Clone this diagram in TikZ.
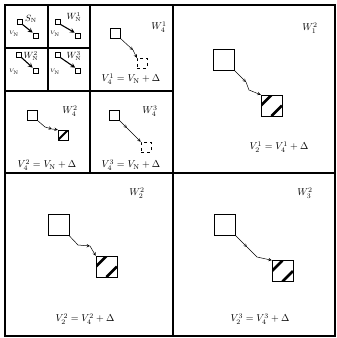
\documentclass[tikz,border=0pt]{standalone}
\usepackage{amsmath}
\usetikzlibrary{arrows}
\tikzstyle{grid} = [line width=1.6pt]
\tikzstyle{smallbox} = [rectangle, draw=black, minimum size=5pt, inner sep=0pt, line width=0.6pt]
\tikzstyle{midbox} = [rectangle, draw=black, minimum size=10pt, inner sep=0pt, line width=0.5pt]
\tikzstyle{bigbox} = [rectangle, draw=black, minimum size=21pt, inner sep=0pt, line width=0.5pt]
\tikzstyle{hatched} = [path picture={\draw[line width=2.6pt] (path picture bounding box.west) -- (path picture bounding box.north); \draw[line width=2.6pt] (path picture bounding box.south) -- (path picture bounding box.east);}]
\tikzstyle{onestripe} = [path picture={\draw[line width=2pt] (path picture bounding box.south west) -- (path picture bounding box.north east);}]
\tikzstyle{flow} = [line width=0.5pt,->,>=stealth]
\tikzstyle{thickflow} = [line width=1.1pt,->,>=stealth]
\tikzstyle{lbl} = [inner sep=0pt]

\begin{document}
\begin{tikzpicture}[x=1pt, y=-1pt]
\useasboundingbox (0,0) rectangle (337,338);

% Grid
\draw [grid] (5,5) rectangle (335,336);
\draw [grid] (173,5) -- (173,336);
\draw [grid] (5,173) -- (335,173);
\draw [grid] (90,5) -- (90,173);
\draw [grid] (5,91) -- (173,91);
\draw [grid] (48,5) -- (48,91);
\draw [grid] (5,48) -- (90,48);

% Small cells
\node (sn_a) [smallbox] at (19.5,21.5) {};
\node (sn_b) [smallbox] at (35.5,35.5) {};
\node (sn_l) [lbl] at (31,19) {\small $S_{\rm N}$};
\node (sn_v) [lbl] at (14,34) {\tiny $V_{\rm N}$};
\draw [thickflow] (sn_a.south east) -- (sn_b.north west);

\node (wn1_a) [smallbox] at (57.5,21.5) {};
\node (wn1_b) [smallbox] at (77.5,35.5) {};
\node (wn1_l) [lbl] at (74,17) {\small $W_{\rm N}^1$};
\node (wn1_v) [lbl] at (55,34) {\tiny $V_{\rm N}$};
\draw [thickflow] (wn1_a.south east) -- (wn1_b.north west);

\node (wn2_a) [smallbox] at (19,55) {};
\node (wn2_b) [smallbox] at (35.5,70.5) {};
\node (wn2_l) [lbl] at (31,56) {\small $W_{\rm N}^2$};
\node (wn2_v) [lbl] at (14,72) {\tiny $V_{\rm N}$};
\draw [thickflow] (wn2_a.south east) -- (wn2_b.north west);

\node (wn3_a) [smallbox] at (58,55) {};
\node (wn3_b) [smallbox] at (78,70.5) {};
\node (wn3_l) [lbl] at (74,56) {\small $W_{\rm N}^3$};
\node (wn3_v) [lbl] at (55,72) {\tiny $V_{\rm N}$};
\draw [thickflow] (wn3_a.south east) -- (wn3_b.north west);

% Middle cells
\node (w41_a) [midbox] at (115,33) {};
\node (w41_b) [midbox, dashed] at (142,63) {};
\node (w41_l) [lbl] at (159,27) {$W_4^1$};
\node (w41_f) [lbl] at (131,79) {$V_4^1 = V_{\rm N} + \Delta$};
\coordinate (w41_m) at (133,50);
\draw [flow] (w41_a.south east) -- (w41_m);
\draw [flow] (w41_m) -- (w41_b.north west);

\node (w42_a) [midbox] at (32,115) {};
\node (w42_b) [midbox, onestripe] at (63,135) {};
\node (w42_l) [lbl] at (70,111) {$W_4^2$};
\node (w42_f) [lbl] at (47,165) {$V_4^2 = V_{\rm N} + \Delta$};
\coordinate (w42_m) at (52,129);
\draw [flow] (w42_a.south east) -- (45,127) -- (w42_m);
\draw [flow] (w42_m) -- (w42_b.north west);

\node (w43_a) [midbox] at (114,115) {};
\node (w43_b) [midbox, dashed] at (146,147) {};
\node (w43_l) [lbl] at (150,111) {$W_4^3$};
\node (w43_f) [lbl] at (131,165) {$V_4^3 = V_{\rm N} + \Delta$};
\coordinate (w43_m) at (127,128);
\draw [flow] (w43_a.south east) -- (w43_m);
\draw [flow] (w43_m) -- (w43_b.north west);

% Large cells
\node (w12_a) [bigbox] at (224,60) {};
\node (w12_b) [bigbox, hatched] at (271.5,105.5) {};
\node (w12_l) [lbl] at (310,28) {$W_1^2$};
\node (w12_f) [lbl] at (279,147) {$V_2^1 = V_4^1 + \Delta$};
\coordinate (w12_m) at (246,82);
\draw [flow] (w12_a.south east) -- (w12_m);
\draw [flow] (w12_m) -- (249,90) -- (w12_b.north west);

\node (w22_a) [bigbox] at (58.5,225) {};
\node (w22_b) [bigbox, hatched] at (106.5,266.5) {};
\node (w22_l) [lbl] at (137,193) {$W_2^2$};
\node (w22_f) [lbl] at (85,319) {$V_2^2 = V_4^2 + \Delta$};
\coordinate (w22_m) at (90,246);
\draw [flow] (w22_a.south east) -- (78,245) -- (w22_m);
\draw [flow] (w22_m) -- (w22_b.north west);

\node (w32_a) [bigbox] at (225,225) {};
\node (w32_b) [bigbox, hatched] at (282.5,271) {};
\node (w32_l) [lbl] at (305,193) {$W_3^2$};
\node (w32_f) [lbl] at (260,319) {$V_2^3 = V_4^3 + \Delta$};
\coordinate (w32_m) at (247,247);
\draw [flow] (w32_a.south east) -- (w32_m);
\draw [flow] (w32_m) -- (257,257) -- (w32_b.north west);

\end{tikzpicture}
\end{document}
